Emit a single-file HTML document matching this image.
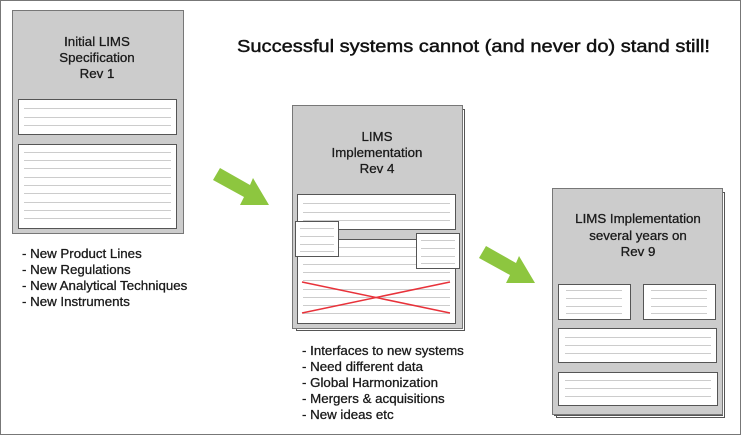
<!DOCTYPE html>
<html><head><meta charset="utf-8"><style>
html,body{margin:0;padding:0;background:#fff;}
svg{display:block;font-family:"Liberation Sans",sans-serif;}
</style></head><body>
<svg width="741" height="435" viewBox="0 0 741 435" xmlns="http://www.w3.org/2000/svg">
<rect x="0.5" y="0.5" width="740" height="434" fill="#fff" stroke="#777"/>
<defs>
<g id="arrow"><polygon points="220,168 250,185 253,178 269,205 240,205 244,197 213,180" fill="#8dc63f"/></g>
</defs>
<!-- Doc 1 -->
<rect x="12.5" y="10.5" width="171" height="223" fill="#cccccc" stroke="#777"/>
<g font-size="13.3" fill="#1a1a1a" stroke="#1a1a1a" stroke-width="0.3" text-anchor="middle">
<text x="97" y="46">Initial LIMS</text>
<text x="97" y="62">Specification</text>
<text x="97" y="78">Rev 1</text>
</g>
<rect x="18.5" y="99.5" width="158" height="35" fill="#fff" stroke="#555"/>
<g stroke="#ccc" stroke-width="1">
<line x1="24" x2="171" y1="108.5" y2="108.5"/><line x1="24" x2="171" y1="117.5" y2="117.5"/><line x1="24" x2="171" y1="125.5" y2="125.5"/>
</g>
<rect x="18.5" y="144.5" width="158" height="84" fill="#fff" stroke="#555"/>
<g stroke="#ccc">
<line x1="24" x2="171" y1="152.5" y2="152.5"/><line x1="24" x2="171" y1="160.5" y2="160.5"/><line x1="24" x2="171" y1="168.5" y2="168.5"/><line x1="24" x2="171" y1="177.5" y2="177.5"/><line x1="24" x2="171" y1="185.5" y2="185.5"/><line x1="24" x2="171" y1="193.5" y2="193.5"/><line x1="24" x2="171" y1="202.5" y2="202.5"/><line x1="24" x2="171" y1="210.5" y2="210.5"/><line x1="24" x2="171" y1="218.5" y2="218.5"/>
</g>
<g font-size="13.3" fill="#1a1a1a" stroke="#1a1a1a" stroke-width="0.3">
<text x="22" y="258">- New Product Lines</text>
<text x="22" y="274">- New Regulations</text>
<text x="22" y="290">- New Analytical Techniques</text>
<text x="22" y="306">- New Instruments</text>
</g>
<text x="237" y="52" font-size="17.5" fill="#111" stroke="#111" stroke-width="0.45" textLength="473" lengthAdjust="spacingAndGlyphs">Successful systems cannot (and never do) stand still!</text>
<use href="#arrow"/>
<use href="#arrow" transform="translate(266,78)"/>
<!-- Doc 2 -->
<rect x="296.5" y="109.5" width="168" height="221" fill="#fff" stroke="#555"/>
<rect x="294.5" y="107.5" width="168" height="221" fill="#fff" stroke="#555"/>
<rect x="292.5" y="105.5" width="170" height="223" fill="#cccccc" stroke="#777"/>
<g font-size="13.3" fill="#1a1a1a" stroke="#1a1a1a" stroke-width="0.3" text-anchor="middle">
<text x="377" y="141">LIMS</text>
<text x="377" y="157">Implementation</text>
<text x="377" y="173">Rev 4</text>
</g>
<rect x="297.5" y="194.5" width="158" height="35" fill="#fff" stroke="#555"/>
<g stroke="#ccc"><line x1="303" x2="450" y1="203.5" y2="203.5"/><line x1="303" x2="450" y1="212.5" y2="212.5"/><line x1="303" x2="450" y1="220.5" y2="220.5"/></g>
<rect x="297.5" y="239.5" width="158" height="84" fill="#fff" stroke="#555"/>
<g stroke="#ccc"><line x1="303" x2="450" y1="247.5" y2="247.5"/><line x1="303" x2="450" y1="256.5" y2="256.5"/><line x1="303" x2="450" y1="264.5" y2="264.5"/><line x1="303" x2="450" y1="272.5" y2="272.5"/><line x1="303" x2="450" y1="280.5" y2="280.5"/><line x1="303" x2="450" y1="289.5" y2="289.5"/><line x1="303" x2="450" y1="297.5" y2="297.5"/><line x1="303" x2="450" y1="305.5" y2="305.5"/><line x1="303" x2="450" y1="313.5" y2="313.5"/></g>
<line x1="302" y1="282" x2="450" y2="313" stroke="#e8323a" stroke-width="1.5"/>
<line x1="302" y1="313" x2="450" y2="282" stroke="#e8323a" stroke-width="1.5"/>
<rect x="295.5" y="221.5" width="43" height="35" fill="#fff" stroke="#555"/>
<g stroke="#ccc"><line x1="300" x2="334" y1="228.5" y2="228.5"/><line x1="300" x2="334" y1="236.5" y2="236.5"/><line x1="300" x2="334" y1="244.5" y2="244.5"/><line x1="300" x2="334" y1="251.5" y2="251.5"/></g>
<rect x="416.5" y="233.5" width="43" height="35" fill="#fff" stroke="#555"/>
<g stroke="#ccc"><line x1="421" x2="455" y1="240.5" y2="240.5"/><line x1="421" x2="455" y1="248.5" y2="248.5"/><line x1="421" x2="455" y1="256.5" y2="256.5"/><line x1="421" x2="455" y1="263.5" y2="263.5"/></g>
<g font-size="13.3" fill="#1a1a1a" stroke="#1a1a1a" stroke-width="0.3">
<text x="302" y="355">- Interfaces to new systems</text>
<text x="302" y="371">- Need different data</text>
<text x="302" y="387">- Global Harmonization</text>
<text x="302" y="403">- Mergers &amp; acquisitions</text>
<text x="302" y="419">- New ideas etc</text>
</g>
<!-- Doc 3 -->
<rect x="556.5" y="192.5" width="168" height="225" fill="#fff" stroke="#555"/>
<rect x="554.5" y="190.5" width="168" height="225" fill="#fff" stroke="#555"/>
<rect x="552.5" y="188.5" width="170" height="226" fill="#cccccc" stroke="#777"/>
<g font-size="13.3" fill="#1a1a1a" stroke="#1a1a1a" stroke-width="0.3" text-anchor="middle">
<text x="638" y="223">LIMS Implementation</text>
<text x="638" y="240">several years on</text>
<text x="638" y="256">Rev 9</text>
</g>
<rect x="558.5" y="284.5" width="72" height="35" fill="#fff" stroke="#555"/>
<g stroke="#ccc"><line x1="566" x2="622" y1="290.5" y2="290.5"/><line x1="566" x2="622" y1="298.5" y2="298.5"/><line x1="566" x2="622" y1="306.5" y2="306.5"/><line x1="566" x2="622" y1="313.5" y2="313.5"/></g>
<rect x="643.5" y="284.5" width="72" height="35" fill="#fff" stroke="#555"/>
<g stroke="#ccc"><line x1="651" x2="707" y1="290.5" y2="290.5"/><line x1="651" x2="707" y1="298.5" y2="298.5"/><line x1="651" x2="707" y1="306.5" y2="306.5"/><line x1="651" x2="707" y1="313.5" y2="313.5"/></g>
<rect x="558.5" y="328.5" width="158" height="34" fill="#fff" stroke="#555"/>
<g stroke="#ccc"><line x1="565" x2="711" y1="337.5" y2="337.5"/><line x1="565" x2="711" y1="345.5" y2="345.5"/><line x1="565" x2="711" y1="353.5" y2="353.5"/></g>
<rect x="558.5" y="372.5" width="159" height="33" fill="#fff" stroke="#555"/>
<g stroke="#ccc"><line x1="565" x2="711" y1="380.5" y2="380.5"/><line x1="565" x2="711" y1="388.5" y2="388.5"/><line x1="565" x2="711" y1="396.5" y2="396.5"/></g>
</svg>
</body></html>
